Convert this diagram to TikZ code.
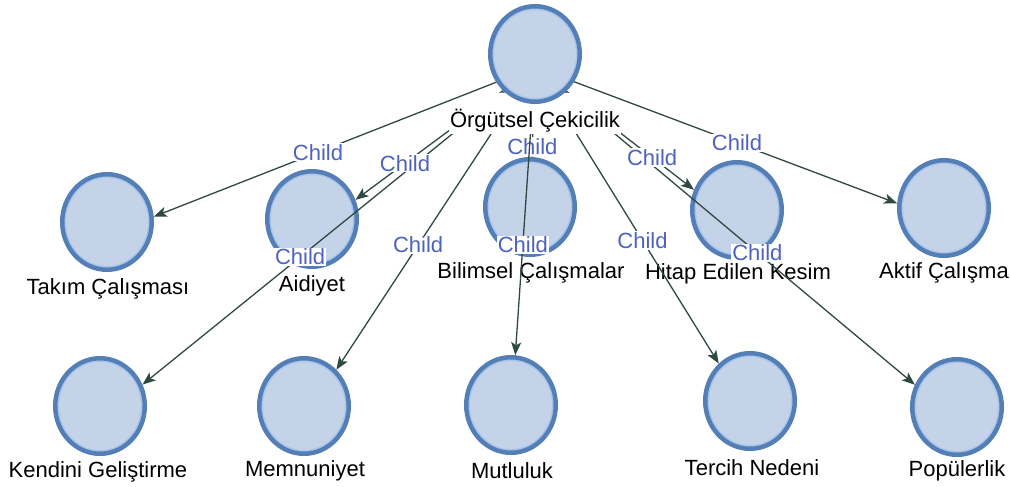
\documentclass[tikz,border=0pt]{standalone}
\usepackage{fontspec}
\setmainfont{Liberation Sans}
\usetikzlibrary{arrows.meta,shapes.geometric,intersections}
\definecolor{cfill}{RGB}{197,211,232}
\definecolor{cborder}{RGB}{84,126,182}
\definecolor{cring}{RGB}{168,198,236}
\definecolor{cedge}{RGB}{47,72,66}
\definecolor{cchild}{RGB}{78,98,190}
\tikzset{
 circ/.style={ellipse, minimum width=89.5pt, minimum height=95.5pt, inner sep=0pt,
   fill=cfill, draw=cborder, line width=4.5pt,
   path picture={\draw[cring, line width=1.5pt] (path picture bounding box.center) ellipse[x radius=41.75pt, y radius=44.75pt];}},
 nlab/.style={font=\fontsize{22}{25}\selectfont, text=black, inner sep=1pt},
 elab/.style={font=\fontsize{22}{25}\selectfont, text=cchild, fill=white, inner sep=1pt},
 conn/.style={draw=cedge, line width=1.3pt, -{Stealth[length=13pt,width=10pt,inset=3pt]}},
}
\newcommand\clipend[1]{%
 \path[name path=P#1] (#1.center) ellipse[x radius=47pt, y radius=50pt];
 \path[name path=L#1] (rootV) -- (#1V);
 \path[name intersections={of=L#1 and P#1, by=#1E}];
}
\begin{document}
\begin{tikzpicture}[x=1pt,y=-1pt]
\useasboundingbox (0,0) rectangle (1010,487);
% child nodes
\node[circ] (takim) at (107,222) {};
\node[nlab] (takimL) at (108,289) {Takım Çalışması};
\coordinate (takimV) at (107,235);
\node[circ] (aidiyet) at (312,219) {};
\node[nlab] (aidiyetL) at (312,286) {Aidiyet};
\coordinate (aidiyetV) at (312,232);
\node[circ] (bilimsel) at (530,207) {};
\node[nlab] (bilimselL) at (531,273) {Bilimsel Çalışmalar};
\coordinate (bilimselV) at (530,220);
\node[circ] (hitap) at (737,210) {};
\node[nlab] (hitapL) at (738,274) {Hitap Edilen Kesim};
\coordinate (hitapV) at (737,223);
\node[circ] (aktif) at (944,208) {};
\node[nlab] (aktifL) at (944,273) {Aktif Çalışma};
\coordinate (aktifV) at (944,221);
\node[circ] (kendini) at (100,406) {};
\node[nlab] (kendiniL) at (98,472) {Kendini Geliştirme};
\coordinate (kendiniV) at (100,419);
\node[circ] (memnun) at (304,406) {};
\node[nlab] (memnunL) at (305,471) {Memnuniyet};
\coordinate (memnunV) at (304,419);
\node[circ] (mutlu) at (511,405) {};
\node[nlab] (mutluL) at (512,471) {Mutluluk};
\coordinate (mutluV) at (511,418);
\node[circ] (tercih) at (750,401) {};
\node[nlab] (tercihL) at (752,468) {Tercih Nedeni};
\coordinate (tercihV) at (750,414);
\node[circ] (popu) at (957,407) {};
\node[nlab] (popuL) at (957,471) {Popülerlik};
\coordinate (popuV) at (957,420);
\coordinate (rootV) at (535,67);
% clipped ends
\clipend{takim}\clipend{aidiyet}\clipend{bilimsel}\clipend{hitap}\clipend{aktif}
\clipend{kendini}\clipend{memnun}\clipend{mutlu}\clipend{tercih}\clipend{popu}
% Bilimsel edge first
\draw[conn] (rootV) -- (bilimselE);
\path (rootV) -- (bilimselV) node[elab, pos=0.52] (eb) {Child};
% other edges
\draw[conn] (rootV) -- (takimE);
\draw[conn] (rootV) -- (aidiyetE);
\draw[conn] (rootV) -- (kendiniE);
\draw[conn] (rootV) -- (memnunE);
\draw[conn] (rootV) -- (mutluE);
\draw[conn] (rootV) -- (tercihE);
\draw[conn] (rootV) -- (hitapE);
\draw[conn] (rootV) -- (aktifE);
\draw[conn] (rootV) -- (popuE);
% edge labels
\path (rootV) -- (takimV) node[elab, pos=0.507] (et) {Child};
\path (rootV) -- (aidiyetV) node[elab, pos=0.583] (ea) {Child};
\path (rootV) -- (kendiniV) node[elab, pos=0.54] (ek) {Child};
\path (rootV) -- (memnunV) node[elab, pos=0.506] (em) {Child};
\path (rootV) -- (mutluV) node[elab, pos=0.507] (eu) {Child};
\path (rootV) -- (tercihV) node[elab, pos=0.5] (er) {Child};
\path (rootV) -- (hitapV) node[elab, pos=0.58] (eh) {Child};
\path (rootV) -- (aktifV) node[elab, pos=0.494] (ec) {Child};
\path (rootV) -- (popuV) node[elab, pos=0.527] (ep) {Child};
% root: opaque area between circle and its label
\fill[white] (476,93) -- (594,93) -- (612,110) -- (612,132) -- (458,132) -- (458,110) -- cycle;
\node[circ] (root) at (535,54) {};
\node[nlab, fill=white] (rootL) at (535,121) {Örgütsel Çekicilik};
\end{tikzpicture}
\end{document}
